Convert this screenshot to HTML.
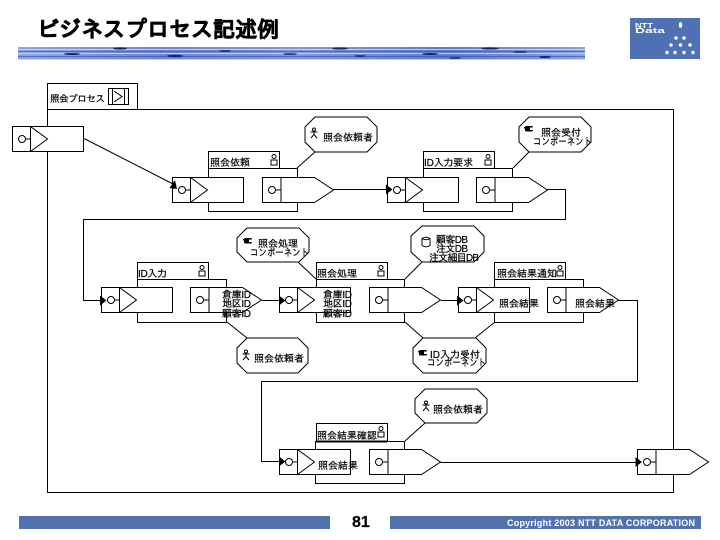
<!DOCTYPE html>
<html lang="ja"><head><meta charset="utf-8"><title>ビジネスプロセス記述例</title>
<style>
html,body{margin:0;padding:0;background:#fff;width:720px;height:540px;overflow:hidden}
svg{display:block}
text{font-family:"Liberation Sans","IPAGothic","Noto Sans CJK JP",sans-serif;fill:#000;font-size:10px;stroke:#000;stroke-width:.2}
.l{fill:none;stroke:#000;stroke-width:1;shape-rendering:crispEdges}
.d{fill:none;stroke:#000;stroke-width:1}
.w{fill:#fff;stroke:#000;stroke-width:1}
.f{fill:#fff;stroke:#000;stroke-width:1;shape-rendering:crispEdges}
</style></head><body>
<svg width="720" height="540" viewBox="0 0 720 540" xmlns="http://www.w3.org/2000/svg">
<defs>
<linearGradient id="bn" x1="0" x2="1" y1="0" y2="0">
<stop offset="0" stop-color="#8ea6e0"/><stop offset=".25" stop-color="#6d88d0"/><stop offset=".5" stop-color="#7f9ad8"/><stop offset=".75" stop-color="#607cc8"/><stop offset="1" stop-color="#8aa2de"/>
</linearGradient>
<g id="in">
<rect class="f" x="0" y="0" width="71" height="25"/>
<path class="l" d="M18 0V25"/>
<path class="d" d="M18 0L35 12.5L18 25"/>
<circle class="d" cx="9.5" cy="12.5" r="3.5"/>
<path class="l" d="M13 12.5H18"/>
</g>
<g id="out">
<path class="w" d="M0 0H52L71 12.5L52 25H0Z"/>
<path class="l" d="M18.500 0V25M13 12.5H18"/>
<circle class="d" cx="9.500" cy="12.500" r="3.500"/>
</g>
<path id="ah" d="M0 -5L6.500 0L0 5Z" fill="#000"/>
<g id="res">
<circle class="d" cx="4" cy="2.500" r="2"/>
<rect class="l" x="1" y="6" width="6" height="5"/>
</g>
<g id="person">
<circle class="d" cx="4" cy="1.500" r="1.500"/>
<path class="d" d="M0.500 4H7.500M4 3V6.500L1 10M4 6.500L7 10"/>
</g>
<g id="comp">
<rect x="0" y="0" width="8" height="5.500" rx="1.500" fill="#000"/>
<rect x="5" y="1.500" width="3.500" height="2.500" fill="#fff"/>
<rect x="-1" y="1" width="2" height="1.500" fill="#000"/>
</g>
</defs>

<!-- title -->
<text x="37" y="37" style="font-size:22px;font-weight:bold;stroke:#000;stroke-width:.6">ビジネスプロセス記述例</text>

<!-- banner -->
<rect x="18" y="47" width="567" height="13" fill="url(#bn)"/>
<g fill="none" stroke-width="1">
<path stroke="#cdd8f4" d="M18 49.500H585M18 53.500H585" opacity=".8"/>
<path stroke="#3a52a8" d="M18 51.500H585M18 56.500H585" opacity=".65"/>
<path stroke="#e3e9f9" d="M18 59.500H585" opacity=".7"/>
</g>
<g fill="#14276c">
<ellipse cx="72" cy="54" rx="8" ry="1"/><ellipse cx="120" cy="48.500" rx="7" ry="1"/><ellipse cx="175" cy="56" rx="8" ry="1.200"/>
<ellipse cx="225" cy="51" rx="6" ry=".8"/><ellipse cx="290" cy="54" rx="7" ry=".8"/><ellipse cx="340" cy="48.500" rx="8" ry="1"/>
<ellipse cx="360" cy="56" rx="6" ry=".8"/><ellipse cx="430" cy="54" rx="8" ry="1"/><ellipse cx="490" cy="48.500" rx="9" ry="1"/>
<ellipse cx="455" cy="58" rx="6" ry=".8"/><ellipse cx="545" cy="57" rx="6" ry="1"/><ellipse cx="520" cy="52" rx="7" ry=".8"/>
</g>

<!-- logo -->
<rect x="630" y="18" width="70" height="41" fill="#4f70b2"/>
<text x="635" y="28" textLength="18" lengthAdjust="spacingAndGlyphs" style="font-size:7px;font-weight:bold;fill:#fff;stroke:none">NTT</text>
<text x="635" y="33" textLength="30" lengthAdjust="spacingAndGlyphs" style="font-size:7px;font-weight:bold;fill:#fff;stroke:none">Data</text>
<g fill="#fff">
<ellipse cx="680.500" cy="25" rx="1.700" ry="3"/>
<circle cx="676" cy="38" r="1.700"/><circle cx="684" cy="38" r="1.700"/>
<circle cx="671" cy="45" r="1.700"/><circle cx="680.500" cy="45" r="1.700"/><circle cx="690" cy="45" r="1.700"/>
<circle cx="667" cy="52.500" r="1.700"/><circle cx="675" cy="52.500" r="1.700"/><circle cx="684" cy="52.500" r="1.700"/><circle cx="693" cy="52.500" r="1.700"/>
</g>

<!-- outer frame -->
<path class="l" d="M47.500 109.500H673.500V492.500H47.500ZM47.500 109.500V83.500H137.500V109.500"/>
<text x="50" y="102" textLength="55" style="font-size:9.500px">照会プロセス</text>
<rect class="l" x="108.500" y="88.500" width="20" height="16"/>
<rect class="l" x="112.500" y="88.500" width="12" height="16"/>
<path class="d" d="M114 91L122 96.500L114 102"/>

<!-- connectors -->
<path class="d" d="M83 138L175 185"/>
<path class="l" d="M333 189.500H388M547 189.500H565.500V219.500H83.500V300.500H101M262 300.500H279M441 300.500H458M618 300.500H637.500V381.500H261.500V461.500H279M440 462.500H637"/>
<path class="d" d="M315 152L297 168M529 152L513 168M298 262L316 279M422 262L405 279M247 338L227 322M423 338L405 322M475 338L495 322M425 423L405 441"/>

<!-- activity frames -->
<g class="l">
<rect class="l" x="208.500" y="168.500" width="89" height="43"/>
<rect class="l" x="208.500" y="151.500" width="71" height="17"/>
<rect class="l" x="423.500" y="168.500" width="89" height="43"/>
<rect class="l" x="423.500" y="151.500" width="71" height="17"/>
<rect class="l" x="137.500" y="279.500" width="89" height="43"/>
<rect class="l" x="137.500" y="262.500" width="71" height="17"/>
<rect class="l" x="316.500" y="279.500" width="88" height="43"/>
<rect class="l" x="316.500" y="262.500" width="71" height="17"/>
<rect class="l" x="494.500" y="279.500" width="89" height="43"/>
<rect class="l" x="494.500" y="262.500" width="71" height="17"/>
<rect class="l" x="315.500" y="441.500" width="89" height="42"/>
<rect class="l" x="316.500" y="423.500" width="71" height="18"/>
</g>
<path d="M316 441.500H387" stroke="#000" stroke-width="2"/>

<!-- ports -->
<use href="#in" x="12.500" y="126.500"/>
<use href="#in" x="172.500" y="177.500"/>
<use href="#out" x="262.500" y="177.500"/>
<use href="#in" x="387.500" y="177.500"/>
<use href="#out" x="476.500" y="177.500"/>
<use href="#in" x="101.500" y="287.500"/>
<use href="#out" x="190.500" y="287.500"/>
<use href="#in" x="279.500" y="287.500"/>
<use href="#out" x="369.500" y="287.500"/>
<use href="#in" x="458.500" y="287.500"/>
<use href="#out" x="547.500" y="287.500"/>
<use href="#in" x="279.500" y="449.500"/>
<use href="#out" x="369.500" y="449.500"/>
<use href="#out" x="637.500" y="449.500"/>

<!-- arrowheads -->
<path d="M177 189L169.500 188L175 180Z" fill="#000"/>
<use href="#ah" x="386" y="189.500"/>
<use href="#ah" x="100" y="300.500"/>
<use href="#ah" x="279" y="300.500"/>
<use href="#ah" x="457" y="300.500"/>
<use href="#ah" x="279" y="461.500"/>
<use href="#ah" x="635.500" y="462"/>

<!-- callouts -->
<path class="w" d="M315 117H367L377 127V142L367 152H315L305 142V127Z"/>
<path class="w" d="M529 117H581L591 127V142L581 152H529L519 142V127Z"/>
<path class="w" d="M247 228H299L309 238V252L299 262H247L237 252V238Z"/>
<path class="w" d="M422 226H474L484 236V252L474 262H422L411 252V236Z"/>
<path class="w" d="M247 338H298L308 348V363L298 373H247L237 363V348Z"/>
<path class="w" d="M423 338H476L486 348V363L476 373H423L413 363V348Z"/>
<path class="w" d="M425 389H477L487 399V413L477 423H425L415 413V399Z"/>

<!-- callout icons -->
<use href="#person" x="310" y="128"/>
<use href="#comp" x="525" y="126"/>
<use href="#comp" x="244" y="238"/>
<use href="#person" x="242" y="350"/>
<use href="#person" x="422" y="401"/>
<path class="d" d="M422 238.500V245.500Q426 248 430 245.500V238.500Q426 236 422 238.500ZM422 238.500Q426 241 430 238.500"/>
<use href="#comp" x="419" y="350"/>

<!-- callout text -->
<text x="323" y="141">照会依頼者</text>
<text x="541" y="136">照会受付</text>
<text x="533" y="145" textLength="59" lengthAdjust="spacingAndGlyphs">コンポーネント</text>
<text x="258" y="247">照会処理</text>
<text x="250" y="256" textLength="59" lengthAdjust="spacingAndGlyphs">コンポーネント</text>
<text x="436" y="243" textLength="32">顧客DB</text>
<text x="436" y="252" textLength="32">注文DB</text>
<text x="429" y="261" textLength="50">注文細目DB</text>
<text x="254" y="362">照会依頼者</text>
<text x="430" y="358" textLength="50">ID入力受付</text>
<text x="427" y="366" textLength="59" lengthAdjust="spacingAndGlyphs">コンポーネント</text>
<text x="433" y="413">照会依頼者</text>

<!-- tab labels -->
<text x="210" y="166">照会依頼</text><use href="#res" x="270" y="154"/>
<text x="424" y="166" textLength="49">ID入力要求</text><use href="#res" x="484" y="154"/>
<text x="138" y="277" textLength="29">ID入力</text><use href="#res" x="198" y="265"/>
<text x="317" y="277">照会処理</text><use href="#res" x="377" y="265"/>
<text x="497" y="277">照会結果通知</text><use href="#res" x="556" y="265"/>
<text x="317" y="439">照会結果確認</text><use href="#res" x="377" y="426"/>

<!-- port text -->
<text x="222" y="298" textLength="29">倉庫ID</text>
<text x="222" y="307" textLength="29">地区ID</text>
<text x="222" y="317" textLength="29">顧客ID</text>
<text x="323" y="298" textLength="29">倉庫ID</text>
<text x="323" y="307" textLength="29">地区ID</text>
<text x="323" y="317" textLength="29">顧客ID</text>
<text x="499" y="307">照会結果</text>
<text x="575" y="307">照会結果</text>
<text x="318" y="469">照会結果</text>

<!-- footer -->
<rect x="19" y="516" width="311" height="13" fill="#5272ae"/>
<rect x="390" y="516" width="311" height="13" fill="#5272ae"/>
<text x="352" y="527" style="font-size:16px;font-weight:bold">81</text>
<text x="507" y="526" textLength="188" style="font-size:9px;font-weight:bold;fill:#fff;stroke:none">Copyright 2003 NTT DATA CORPORATION</text>
</svg>
</body></html>
